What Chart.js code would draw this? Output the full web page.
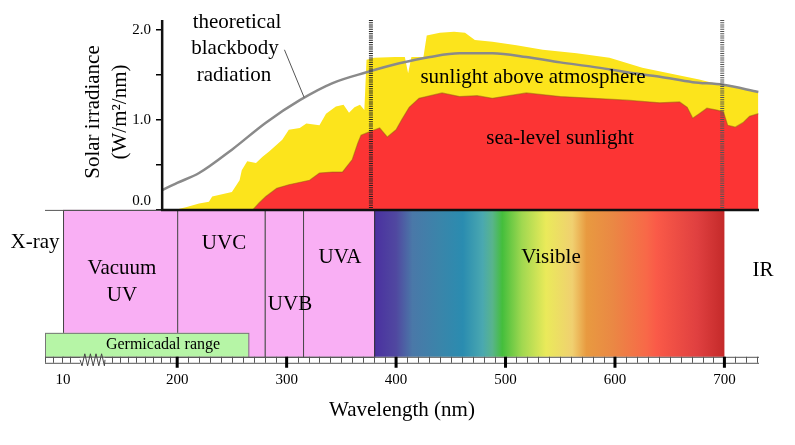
<!DOCTYPE html>
<html>
<head>
<meta charset="utf-8">
<script src="https://cdn.jsdelivr.net/npm/chart.js@4"></script>
<style>
  html, body { margin: 0; padding: 0; background: #fff; }
  canvas { display: block; }
</style>
</head>
<body>
<canvas id="spectrum" width="795" height="445"></canvas>
<script>
// tick labels
const wavelengthTicks = [10, 200, 300, 400, 500, 600, 700];
const irradianceTicks = [0, 0.5, 1.0, 1.5, 2.0];

// sunlight above atmosphere (W/m2/nm)
const aboveNm = [195, 208, 220, 229, 232, 250, 257, 259, 264, 272, 278, 284, 296, 302, 312, 318, 330, 336, 345, 352, 357, 362, 367, 371,
  373, 380, 399, 408, 411, 414, 425, 428, 440, 453, 463, 472, 488, 510, 534, 565, 595, 625, 657, 677, 696, 714, 731];
const aboveW = [0, 0.03, 0.07, 0.09, 0.15, 0.2, 0.33, 0.44, 0.54, 0.52, 0.59, 0.65, 0.78, 0.89, 0.91, 0.96, 0.94, 1.07, 1.15, 1.17, 1.08, 1.14, 1.17, 1.11,
  1.67, 1.69, 1.70, 1.70, 1.52, 1.70, 1.70, 1.94, 1.97, 1.98, 1.97, 1.89, 1.87, 1.83, 1.78, 1.74, 1.69, 1.58, 1.50, 1.45, 1.39, 1.35, 1.31];

// sea-level sunlight
const seaNm = [269, 275, 281, 291, 302, 321, 330, 342, 351, 360, 365, 368, 376, 385, 392, 400, 405, 412, 421, 442, 458, 474, 488, 519, 550,
  580, 611, 641, 659, 666, 671, 677, 684, 693, 699, 703, 710, 717, 723, 731];
const seaW = [0, 0.08, 0.15, 0.24, 0.28, 0.33, 0.41, 0.42, 0.42, 0.56, 0.74, 0.83, 0.87, 0.91, 0.81, 0.89, 1.0, 1.14, 1.24, 1.30, 1.26, 1.27, 1.24, 1.30, 1.26,
  1.24, 1.22, 1.19, 1.20, 1.14, 1.02, 1.07, 1.13, 1.11, 1.09, 0.94, 0.92, 0.97, 1.04, 1.07];

// theoretical blackbody radiation
const blackbodyNm = [175, 200, 220, 250, 281, 312, 342, 373, 403, 431, 458, 488, 519, 550, 580, 611, 641, 671, 699, 731];
const blackbodyW = [0.22, 0.30, 0.41, 0.67, 0.97, 1.22, 1.41, 1.53, 1.63, 1.70, 1.74, 1.74, 1.70, 1.64, 1.59, 1.53, 1.48, 1.42, 1.39, 1.31];

// spectral bands (nm)
const bandNames = ['Vacuum UV', 'UVC', 'UVB', 'UVA', 'Visible'];
const bandFrom = [10, 200, 280, 315, 380];
const bandTo = [200, 280, 315, 380, 700];
const germicidalTo = 265;
const markerNm = [377, 698];

// visible spectrum colours
const spectrumNm = [380, 400, 415, 440, 461, 479, 488, 497, 515, 537, 561, 574, 598, 629, 638, 675, 700];
const spectrumColors = ['#4a30a0', '#5048a0', '#4a78a8', '#3a85aa', '#2a8cb0', '#4aa8b0', '#58b48c', '#44be3c', '#a0d850', '#eaea5a',
  '#f0d070', '#e89a40', '#ea8844', '#f86848', '#fa5a48', '#e04040', '#c42a2a'];

// below 200 nm the axis is compressed
const pos = nm => nm >= 200 ? nm : 200 - (200 - nm) * 0.549;
const serif = '"Liberation Serif", "Times New Roman", serif';
const font = px => px + 'px ' + serif;

const points = (xs, ys) => xs.map((nm, i) => ({x: pos(nm), y: ys[i]}));

const bandsPlugin = {
  id: 'bands',
  beforeDatasetsDraw(chart) {
    const {ctx, chartArea: area, scales: {x, y}} = chart;
    const top = y.getPixelForValue(0);
    const bottom = area.bottom;
    ctx.save();
    for (let i = 0; i < bandNames.length; i++) {
      const x0 = x.getPixelForValue(pos(bandFrom[i]));
      const x1 = x.getPixelForValue(pos(bandTo[i]));
      if (bandNames[i] === 'Visible') {
        const g = ctx.createLinearGradient(x0, 0, x1, 0);
        spectrumNm.forEach((nm, j) => g.addColorStop((nm - bandFrom[i]) / (bandTo[i] - bandFrom[i]), spectrumColors[j]));
        ctx.fillStyle = g;
        ctx.fillRect(x0, top, x1 - x0, bottom - top);
        ctx.strokeStyle = '#333';
        ctx.lineWidth = 1;
        ctx.beginPath();
        ctx.moveTo(x0 + 0.5, top);
        ctx.lineTo(x0 + 0.5, bottom);
        ctx.stroke();
      } else {
        ctx.fillStyle = '#f9aff4';
        ctx.fillRect(x0, top, x1 - x0, bottom - top);
        ctx.strokeStyle = '#444';
        ctx.lineWidth = 1;
        ctx.strokeRect(x0 + 0.5, top + 0.5, x1 - x0, bottom - top);
      }
    }
    // thin line on top of the bands left of the plot
    ctx.strokeStyle = '#555';
    ctx.beginPath();
    ctx.moveTo(area.left, top + 0.5);
    ctx.lineTo(x.getPixelForValue(pos(200)), top + 0.5);
    ctx.stroke();

    // germicidal range
    const gx1 = x.getPixelForValue(pos(germicidalTo));
    const gy = y.getPixelForValue(-1.367);
    ctx.fillStyle = '#b6f5a6';
    ctx.fillRect(area.left, gy, gx1 - area.left, bottom - gy);
    ctx.strokeStyle = '#777';
    ctx.strokeRect(area.left + 0.5, gy + 0.5, gx1 - area.left, bottom - gy);

    // ruler
    const r0 = bottom, r1 = bottom + 6;
    ctx.strokeStyle = '#555';
    ctx.lineWidth = 1;
    ctx.beginPath();
    ctx.moveTo(area.left, r0 + 0.5); ctx.lineTo(area.right, r0 + 0.5);
    ctx.moveTo(area.left, r1 + 0.5); ctx.lineTo(area.right, r1 + 0.5);
    for (let v = x.min; v < pos(200); v += 7.6) {
      const px = Math.round(x.getPixelForValue(v)) + 0.5;
      if (px > 78 && px < 107) continue;
      ctx.moveTo(px, r0); ctx.lineTo(px, r1);
    }
    for (let nm = 210; nm <= x.max; nm += 10) {
      const px = Math.round(x.getPixelForValue(nm)) + 0.5;
      ctx.moveTo(px, r0); ctx.lineTo(px, r1);
    }
    ctx.stroke();
    // axis break
    ctx.fillStyle = '#fff';
    ctx.fillRect(80, r0 + 1, 25, 6);
    ctx.beginPath();
    ctx.strokeStyle = '#444';
    ctx.moveTo(80, r0 + 3);
    for (let k = 0; k < 9; k++) {
      ctx.lineTo(82 + k * 2.8, k % 2 ? r0 - 3 : r1 + 3);
    }
    ctx.lineTo(105, r0 + 3);
    ctx.stroke();
    ctx.strokeStyle = '#000';
    ctx.lineWidth = 3;
    ctx.beginPath();
    wavelengthTicks.filter(nm => nm >= 200).forEach(nm => {
      const px = x.getPixelForValue(pos(nm));
      ctx.moveTo(px, r0); ctx.lineTo(px, r0 + 11);
    });
    ctx.stroke();
    ctx.restore();
  },
  afterDatasetsDraw(chart) {
    const {ctx, chartArea: area, scales: {x, y}} = chart;
    const y0 = y.getPixelForValue(0);
    const ax = x.getPixelForValue(pos(175));
    ctx.save();
    // marker lines at the visible limits
    ctx.setLineDash([1, 1.2]);
    ctx.lineWidth = 4;
    markerNm.forEach((nm, i) => {
      ctx.strokeStyle = i ? '#555' : '#222';
      const px = x.getPixelForValue(nm);
      ctx.beginPath();
      ctx.moveTo(px, area.top);
      ctx.lineTo(px, y0);
      ctx.stroke();
    });
    ctx.setLineDash([]);
    // axis lines of the irradiance panel
    ctx.strokeStyle = '#111';
    ctx.lineWidth = 2.5;
    ctx.beginPath();
    ctx.moveTo(ax, area.top);
    ctx.lineTo(ax, y0);
    ctx.lineTo(area.right, y0);
    ctx.stroke();
    // pointer to the blackbody curve
    ctx.strokeStyle = '#555';
    ctx.lineWidth = 1;
    ctx.beginPath();
    ctx.moveTo(x.getPixelForValue(298), y.getPixelForValue(1.78));
    ctx.lineTo(x.getPixelForValue(316), y.getPixelForValue(1.25));
    ctx.stroke();

    ctx.fillStyle = '#000';
    ctx.textAlign = 'center';
    ctx.textBaseline = 'middle';
    ctx.font = font(21);
    ctx.fillText('theoretical', 237, 22);
    ctx.fillText('blackbody', 235, 48);
    ctx.fillText('radiation', 234, 75);
    ctx.fillText('sunlight above atmosphere', 533, 77);
    ctx.fillText('sea-level sunlight', 560, 138);
    ctx.fillText('X-ray', 35, 242);
    ctx.fillText('Vacuum', 122, 268);
    ctx.fillText('UV', 122, 295);
    ctx.fillText('UVC', 224, 243);
    ctx.fillText('UVB', 290, 304);
    ctx.fillText('UVA', 340, 257);
    ctx.fillText('Visible', 551, 257);
    ctx.fillText('IR', 763, 270);
    ctx.font = font(16);
    ctx.fillText('Germicadal range', 163, 345);
    ctx.save();
    ctx.translate(93, 112);
    ctx.rotate(-Math.PI / 2);
    ctx.font = font(21);
    ctx.fillText('Solar irradiance', 0, 0);
    ctx.fillText('(W/m\u00b2/nm)', 0, 27);
    ctx.restore();
    ctx.restore();
  }
};

new Chart(document.getElementById('spectrum'), {
  type: 'line',
  plugins: [bandsPlugin],
  data: {
    datasets: [
      {
        label: 'theoretical blackbody radiation',
        data: points(blackbodyNm, blackbodyW),
        borderColor: '#8a8a8a',
        borderWidth: 2.5,
        pointRadius: 0,
        cubicInterpolationMode: 'monotone',
        fill: false,
        order: 0
      },
      {
        label: 'sea-level sunlight',
        data: points(seaNm, seaW),
        borderColor: 'rgba(150,90,20,0.5)',
        borderWidth: 1.2,
        backgroundColor: '#fc3434',
        pointRadius: 0,
        fill: 'origin',
        order: 1
      },
      {
        label: 'sunlight above atmosphere',
        data: points(aboveNm, aboveW),
        borderWidth: 0,
        backgroundColor: '#fce41c',
        pointRadius: 0,
        fill: 'origin',
        order: 2
      }
    ]
  },
  options: {
    responsive: false,
    animation: false,
    layout: {padding: {left: 45, right: 36, top: 20, bottom: 22}},
    plugins: {
      legend: {display: false},
      tooltip: {enabled: false}
    },
    scales: {
      x: {
        type: 'linear',
        min: pos(-20),
        max: 731.6,
        afterBuildTicks: s => { s.ticks = wavelengthTicks.map(nm => ({value: pos(nm)})); },
        ticks: {
          callback: (v, i) => wavelengthTicks[i],
          autoSkip: false,
          maxRotation: 0,
          padding: 6,
          color: '#000',
          font: {family: serif, size: 15}
        },
        grid: {display: false},
        border: {display: false},
        title: {
          display: true,
          text: 'Wavelength (nm)',
          color: '#000',
          font: {family: serif, size: 21},
          padding: {top: 3, bottom: 0}
        }
      },
      y: {
        type: 'linear',
        min: -1.633,
        max: 2.111,
        position: {x: pos(175)},
        afterBuildTicks: s => { s.ticks = irradianceTicks.map(v => ({value: v})); },
        ticks: {
          // labels sit right-aligned on the axis when it is placed by value, so pad with spaces;
          // the zero label is lifted above the baseline with an empty second line
          callback: v => {
            if (v % 1 !== 0) return '';
            const text = v.toFixed(1) + '   ';
            return v === 0 ? [text, ''] : text;
          },
          color: '#000',
          font: {family: serif, size: 15}
        },
        grid: {drawOnChartArea: false, drawTicks: true, tickLength: 6, color: '#000', lineWidth: 1.5},
        border: {display: false}
      }
    }
  }
});
</script>
</body>
</html>
